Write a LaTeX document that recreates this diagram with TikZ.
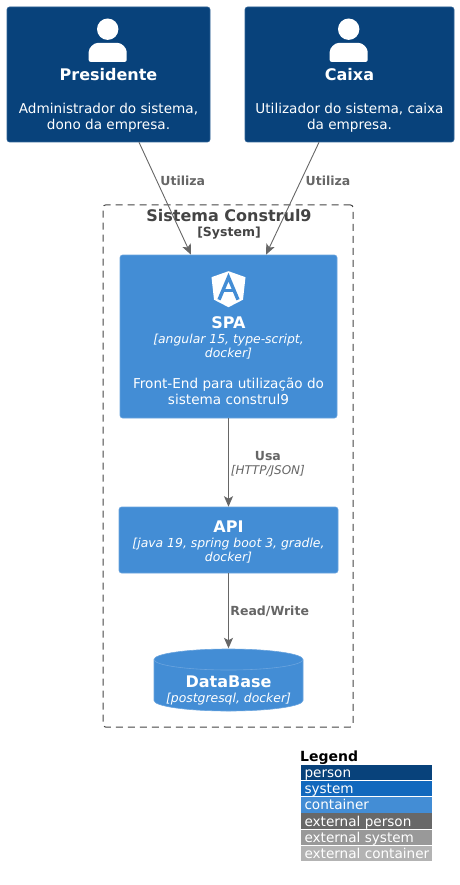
\documentclass[tikz,border=0pt]{standalone}
\usepackage{xcolor}
\usepackage{fontspec}
\setmainfont{DejaVu Sans}
\usepackage{tikz}
\usetikzlibrary{positioning,arrows.meta}

\definecolor{personblue}{HTML}{08427B}
\definecolor{personedge}{HTML}{2E6295}
\definecolor{systemblue}{HTML}{1168BD}
\definecolor{containerblue}{HTML}{438DD5}
\definecolor{containeredge}{HTML}{6AA4DE}
\definecolor{extperson}{HTML}{686868}
\definecolor{extsystem}{HTML}{999999}
\definecolor{extcontainer}{HTML}{B3B3B3}
\definecolor{relgray}{HTML}{666666}
\definecolor{boundgray}{HTML}{444444}

\newcommand{\nametxt}[1]{{\bfseries\fontsize{16}{19}\selectfont #1}}
\newcommand{\techtxt}[1]{{\itshape\fontsize{12.4}{14}\selectfont #1}}
\newcommand{\reltxt}[1]{{\bfseries\fontsize{12.5}{14}\selectfont #1}}
\newcommand{\legendtxt}[1]{\makebox[124pt][l]{#1}}
\newcommand{\personicon}[1]{
    \fill[icon] ([xshift=-.8pt,yshift=-22.5pt]#1.north) circle (10.7pt);
    \fill[icon,rounded corners=2pt] ([xshift=-19.8pt,yshift=-55.2pt]#1.north) -- ++(0,8) arc (180:90:11) -- ++(16,0) arc (90:0:11) -- ++(0,-8) -- cycle;
}

\tikzset{
    box/.style={draw,rounded corners=2.5pt,inner sep=0pt,align=center,text=white,line width=.6pt,
        font=\fontsize{13.6}{16}\selectfont},
    personbox/.style={box,fill=personblue,draw=personedge,minimum height=135pt},
    containerbox/.style={box,fill=containerblue,draw=containeredge},
    dbbox/.style={inner sep=0pt,align=center,text=white,minimum width=150pt,minimum height=63pt,
        font=\fontsize{13.6}{16}\selectfont,
        path picture={
            \path[fill=containerblue,draw=containeredge,line width=.6pt]
                ([shift={(.5pt,-11pt)}]path picture bounding box.north west) arc (180:0:74.5pt and 10.5pt)
                -- ([shift={(-.5pt,11pt)}]path picture bounding box.south east) arc (0:-180:74.5pt and 10.5pt) -- cycle;
            \path[draw=containeredge,line width=.6pt]
                ([shift={(.5pt,-11pt)}]path picture bounding box.north west) arc (180:360:74.5pt and 10.5pt);
        }},
    rel/.style={draw=relgray,line width=.9pt,-{Stealth[length=10.5pt,width=9pt,inset=2.5pt]}},
    rellabel/.style={text=relgray,align=center,inner sep=0pt,font=\fontsize{12}{14}\selectfont},
    legendrow/.style={minimum width=131pt,minimum height=15.5pt,inner sep=0pt,text=white,
        text height=12pt,text depth=2pt,font=\fontsize{13.6}{16}\selectfont},
    icon/.style={fill=white,draw=none}
}

\begin{document}
\begin{tikzpicture}[x=1pt,y=1pt,node distance=16.2pt,on grid]
    \useasboundingbox (0,0) rectangle (459,-885);
    % people
    \node (presidente) [personbox,minimum width=203pt] at (108.5,-74.5)
        {\rule{0pt}{42pt}\\[5pt]\nametxt{Presidente}\\[17pt]Administrador do sistema,\\dono da empresa.};
    \node (caixa) [personbox,minimum width=209pt,right=241pt of presidente]
        {\rule{0pt}{42pt}\\[5pt]\nametxt{Caixa}\\[17pt]Utilizador do sistema, caixa\\da empresa.};
    \personicon{presidente}
    \personicon{caixa}
    % system boundary
    \node (sistema) [draw=boundgray,dash pattern=on 7pt off 5pt,rounded corners=2.5pt,line width=1pt,
        minimum width=250pt,minimum height=522pt] at (228,-466) {};
    \node (sistematitle) [text=boundgray,align=center,inner sep=0pt,font=\bfseries\fontsize{16}{14}\selectfont]
        at (229,-224) {Sistema Construl9\\[1pt]\reltxt{[System]}};
    % containers
    \node (spa) [containerbox,minimum width=217pt,minimum height=163pt] at (228.5,-336.5)
        {\rule{0pt}{40pt}\\[4pt]\nametxt{SPA}\\[-1pt]\techtxt{[angular 15, type-script,}\\[-2pt]\techtxt{docker]}\\[15pt]Front-End para utilização do\\sistema construl9};
    \node (api) [containerbox,minimum width=219pt,minimum height=66pt,below=203.5pt of spa]
        {\rule{0pt}{15.7pt}\nametxt{API}\\[-1pt]\techtxt{[java 19, spring boot 3, gradle,}\\[-2pt]\techtxt{docker]}};
    \node (database) [dbbox,below=140pt of api]
        {\rule{0pt}{31.7pt}\nametxt{DataBase}\\[-1pt]\techtxt{[postgresql, docker]}};
    % angular logo
    \fill[icon] ([yshift=-16.5pt]spa.north) -- ++(17,-6) -- ++(-2.5,-22.5) -- ++(-14.5,-7.5) -- ++(-14.5,7.5) -- ++(-2.5,22.5) -- cycle;
    \draw[containerblue,line width=3.4pt,line join=miter] ([xshift=-9.5pt,yshift=-45pt]spa.north) -- ([yshift=-22.5pt]spa.north) -- ([xshift=9.5pt,yshift=-45pt]spa.north);
    \draw[containerblue,line width=3pt] ([xshift=-6pt,yshift=-35.5pt]spa.north) -- ([xshift=6pt,yshift=-35.5pt]spa.north);
    % relations
    \path[every edge/.append style={rel}]
        ([xshift=30.5pt]presidente.south) edge node (utilizaa) [rellabel,pos=.336,anchor=west,xshift=3.5pt,yshift=-1pt] {\reltxt{Utiliza}} ([xshift=-37.5pt]spa.north)
        ([xshift=-30.5pt]caixa.south) edge node (utilizab) [rellabel,pos=.336,anchor=west,xshift=4pt,yshift=-1pt] {\reltxt{Utiliza}} ([xshift=37.5pt]spa.north)
        (spa) edge node (usa) [rellabel,pos=.5,anchor=west,xshift=2pt,yshift=-2pt] {\reltxt{Usa}\\{\itshape [HTTP/JSON]}} (api)
        (api) edge node (readwrite) [rellabel,pos=.5,anchor=west,xshift=1.5pt,yshift=-1pt] {\reltxt{Read/Write}} (database.north);
    % legend
    \node (legendtitle) [anchor=west,inner sep=0pt,font=\bfseries\fontsize{14}{16}\selectfont] at (300,-758) {Legend};
    \node (lperson) [legendrow,fill=personblue] at (366.5,-772.5) {\legendtxt{person}};
    \node (lsystem) [legendrow,fill=systemblue,below=of lperson] {\legendtxt{system}};
    \node (lcontainer) [legendrow,fill=containerblue,below=of lsystem] {\legendtxt{container}};
    \node (lextperson) [legendrow,fill=extperson,below=of lcontainer] {\legendtxt{external person}};
    \node (lextsystem) [legendrow,fill=extsystem,below=of lextperson] {\legendtxt{external system}};
    \node (lextcontainer) [legendrow,fill=extcontainer,below=of lextsystem] {\legendtxt{external container}};
\end{tikzpicture}
\end{document}
